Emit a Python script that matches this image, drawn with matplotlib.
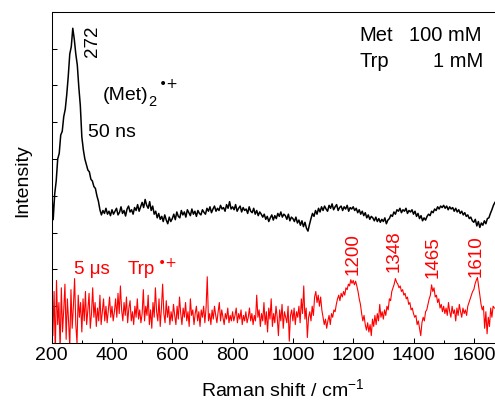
import numpy as np
import matplotlib
matplotlib.use("Agg")
import matplotlib.pyplot as plt
from matplotlib.ticker import MultipleLocator, NullFormatter

plt.rcParams["font.family"] = ["Liberation Sans", "DejaVu Sans"]
plt.rcParams["mathtext.fontset"] = "custom"
plt.rcParams["mathtext.rm"] = "Liberation Sans"
plt.rcParams["mathtext.it"] = "Liberation Sans:italic"

# ---------------------------------------------------------------------
# Spectra (offset intensity, arbitrary units)
# 50 ns spectrum, one value every 5 cm-1 starting at 200 cm-1
black_step = 5
black_y = [
    4.2, 3.35, 4.05, 4.4, 5.0, 5.15, 5.65, 5.75, 6.15, 6.35, 6.75, 7.25, 7.85, 8.05, 8.55, 8.25, 7.85, 7.55, 6.95, 6.45,
    5.6, 5.25, 5.0, 4.85, 4.7, 4.65, 4.45, 4.4, 4.25, 4.2, 4.0, 3.85, 3.62, 3.48, 3.6, 3.52, 3.66, 3.5, 3.58, 3.46,
    3.62, 3.5, 3.58, 3.66, 3.48, 3.55, 3.7, 3.52, 3.6, 3.45, 3.64, 3.72, 3.56, 3.62, 3.5, 3.68, 3.6, 3.76, 3.58, 3.7,
    3.82, 3.68, 3.9, 3.74, 3.66, 3.84, 3.6, 3.72, 3.5, 3.58, 3.4, 3.52, 3.36, 3.44, 3.3, 3.48, 3.34, 3.24, 3.42, 3.3,
    3.38, 3.5, 3.35, 3.56, 3.44, 3.4, 3.6, 3.48, 3.56, 3.42, 3.62, 3.54, 3.46, 3.64, 3.5, 3.58, 3.44, 3.6, 3.52, 3.48,
    3.62, 3.55, 3.5, 3.66, 3.58, 3.7, 3.54, 3.64, 3.72, 3.58, 3.66, 3.6, 3.74, 3.64, 3.68, 3.58, 3.76, 3.66, 3.84, 3.64,
    3.7, 3.62, 3.76, 3.58, 3.66, 3.72, 3.56, 3.68, 3.6, 3.64, 3.52, 3.7, 3.58, 3.54, 3.66, 3.5, 3.6, 3.46, 3.56, 3.5,
    3.42, 3.5, 3.36, 3.44, 3.3, 3.4, 3.48, 3.34, 3.46, 3.38, 3.52, 3.44, 3.56, 3.42, 3.5, 3.46, 3.36, 3.5, 3.32, 3.42,
    3.38, 3.3, 3.42, 3.26, 3.34, 3.2, 3.32, 3.16, 3.28, 3.12, 3.04, 3.22, 3.38, 3.52, 3.44, 3.6, 3.5, 3.66, 3.56, 3.7,
    3.6, 3.72, 3.64, 3.58, 3.74, 3.66, 3.78, 3.62, 3.7, 3.76, 3.6, 3.68, 3.72, 3.6, 3.7, 3.64, 3.74, 3.58, 3.68, 3.64,
    3.7, 3.6, 3.66, 3.54, 3.62, 3.5, 3.58, 3.46, 3.54, 3.4, 3.48, 3.36, 3.44, 3.4, 3.32, 3.42, 3.3, 3.38, 3.28, 3.36,
    3.3, 3.4, 3.24, 3.34, 3.38, 3.48, 3.44, 3.56, 3.5, 3.62, 3.58, 3.66, 3.54, 3.62, 3.58, 3.66, 3.52, 3.6, 3.56, 3.62,
    3.5, 3.58, 3.44, 3.52, 3.38, 3.46, 3.32, 3.4, 3.34, 3.44, 3.5, 3.46, 3.58, 3.54, 3.64, 3.6, 3.7, 3.64, 3.72, 3.68,
    3.74, 3.66, 3.72, 3.62, 3.7, 3.64, 3.68, 3.58, 3.66, 3.56, 3.62, 3.52, 3.58, 3.48, 3.54, 3.44, 3.48, 3.38, 3.42, 3.32,
    3.28, 3.36, 3.18, 3.3, 3.14, 3.26, 3.2, 3.32, 3.24, 3.38, 3.4, 3.52, 3.62, 3.74, 3.82,
]

# 5 us spectrum, one value every 4 cm-1 starting at 200 cm-1
red_step = 4
red_y = [
    2.45, 0.2, 1.4, -0.3, 1.7, 0.5, 1.1, -0.2, 1.5, 0.3, 0.9, 1.6, 0.1, 1.2, 0.6, -0.1, 1.45, 0.4, 1.0, 1.75, 0.5, 0.0, 1.3, 0.7, 1.1,
    0.3, 1.2, 0.6, 1.4, 0.5, 0.9, 1.35, 0.4, 0.8, 1.5, 0.7, 1.1, 0.45, 0.95, 0.6, 1.3, 0.5, 0.85, 1.2, 0.6, 1.0, 0.55, 0.9, 1.25, 0.7,
    1.0, 0.6, 0.85, 1.2, 0.7, 1.35, 0.8, 1.55, 0.9, 0.6, 1.1, 0.75, 1.25, 0.55, 0.95, 1.15, 0.6, 0.85, 0.5, 1.0, 0.7, 1.2, 0.65, 0.9, 0.55,
    0.8, 1.45, 0.6, 1.0, 0.75, 1.3, 0.5, 0.9, 0.4, 1.1, 0.7, 1.5, 0.85, 0.6, 1.2, 0.45, 0.95, 1.6, 0.8, 0.55, 1.15, 0.7, 1.0, 0.5, 0.85,
    0.6, 1.05, 0.75, 0.5, 1.0, 0.65, 1.25, 0.8, 0.5, 0.95, 0.7, 1.1, 0.6, 0.85, 0.45, 1.2, 0.75, 0.9, 0.5, 0.8, 1.0, 0.6, 0.85, 0.45, 0.9,
    0.7, 1.0, 0.55, 0.95, 1.8, 0.6, 0.8, 0.5, 0.9, 0.65, 1.0, 0.75, 0.55, 0.85, 1.1, 0.6, 0.9, 0.7, 0.5, 0.8, 0.65, 0.95, 0.55, 0.75, 0.6,
    0.85, 0.6, 0.75, 0.95, 0.55, 0.8, 0.65, 0.9, 0.5, 0.75, 0.6, 0.85, 0.55, 0.7, 0.95, 0.6, 0.8, 0.5, 0.75, 0.6, 1.3, 0.7, 0.9, 0.45, 0.8,
    0.6, 1.1, 0.5, 0.85, 0.3, 0.95, 0.65, 1.2, 0.45, 0.8, 0.55, 1.0, 0.7, 0.2, 0.9, 0.6, 1.05, 0.4, 0.85, 0.7, 0.55, 1.0, 0.05, 0.75, 0.9,
    0.6, 0.95, 0.5, 0.85, 0.7, 1.0, 0.55, 1.2, 0.8, 1.55, 0.65, 0.95, 0.15, 0.7, 0.85, 0.6, 1.0, 0.75, 1.25, 1.4, 1.1, 1.3, 1.0, 1.25, 0.9,
    0.7, 0.5, 0.65, 0.4, 0.6, 0.75, 0.5, 0.8, 0.7, 0.9, 0.85, 1.05, 1.2, 1.3, 1.15, 1.35, 1.25, 1.4, 1.3, 1.5, 1.45, 1.6, 1.55, 1.72, 1.62,
    1.7, 1.58, 1.68, 1.55, 1.4, 1.2, 1.05, 0.8, 0.6, 0.75, 0.5, 0.35, 0.55, 0.3, 0.5, 0.2, 0.65, 0.45, 0.75, 0.5, 0.8, 0.6, 1.05, 0.7, 0.85,
    0.65, 0.9, 0.75, 1.0, 0.9, 1.2, 1.15, 1.4, 1.5, 1.6, 1.75, 1.65, 1.6, 1.5, 1.55, 1.4, 1.45, 1.3, 1.35, 1.2, 1.25, 1.05, 1.1, 0.9, 0.95,
    0.8, 0.7, 0.75, 0.5, 0.6, 0.4, 0.2, 0.55, 0.7, 0.6, 0.85, 0.9, 1.05, 1.2, 1.3, 1.58, 1.4, 1.5, 1.25, 1.3, 1.1, 1.2, 0.95, 1.05, 0.85,
    1.0, 0.8, 0.95, 0.75, 1.1, 0.85, 0.7, 1.0, 0.8, 0.9, 0.6, 0.95, 0.75, 1.05, 0.85, 0.7, 0.95, 0.8, 0.9, 0.75, 1.0, 1.1, 1.2, 1.3, 1.4,
    1.45, 1.6, 1.7, 1.78, 1.55, 1.3, 1.05, 0.9, 1.0, 0.4, 0.85, 0.25, 0.7, 0.45, 0.95, 0.7, 1.0, 0.95,
]

black_x = 200 + black_step * np.arange(len(black_y))
red_x = 200 + red_step * np.arange(len(red_y))

# peak annotations
red_peaks = [1200, 1348, 1465, 1610]
red_peak_text_x = [1200, 1335, 1465, 1607]
red_peak_text_y = [1.85, 1.93, 1.77, 1.79]

# ---------------------------------------------------------------------
fig = plt.figure(figsize=(4.95, 4.01), dpi=100)
ax = fig.add_axes([0.1044, 0.1446, 0.9137, 0.8262])

ax.plot(black_x, black_y, color="black", lw=1.1)
ax.plot(red_x, red_y, color="red", lw=0.8)

ax.set_xlim(200, 1700)
ax.set_ylim(0, 9)

ax.xaxis.set_major_locator(MultipleLocator(200))
ax.xaxis.set_minor_locator(MultipleLocator(100))
ax.yaxis.set_major_locator(MultipleLocator(1))
ax.yaxis.set_major_formatter(NullFormatter())
ax.tick_params(axis="both", which="major", direction="in", length=3.6, width=0.75,
               labelsize=14, pad=3)
ax.tick_params(axis="x", which="minor", direction="in", length=2, width=0.75)
ax.tick_params(axis="y", which="both", right=False)
ax.tick_params(axis="x", which="both", top=False)
for s in ax.spines.values():
    s.set_linewidth(0.75)
ax.spines["right"].set_visible(False)

ax.set_ylabel("Intensity", fontsize=14)
ax.yaxis.set_label_coords(-0.046, 0.49)
ax.set_xlabel("Raman shift / cm$^{-1}$", fontsize=14)
ax.xaxis.set_label_coords(0.511, -0.106)

# --- black annotations
ax.text(334, 7.77, "272", rotation=90, ha="center", va="bottom", fontsize=13.5)
ax.text(370, 6.6, "(Met)", ha="left", va="baseline", fontsize=14)
ax.text(521, 6.45, "2", ha="left", va="baseline", fontsize=10.5)
ax.text(554, 6.93, "•+", ha="left", va="baseline", fontsize=10, family="DejaVu Sans")
ax.text(321, 5.6, "50 ns", ha="left", va="baseline", fontsize=14)

ax.text(1222, 8.21, "Met", ha="left", va="baseline", fontsize=14.5)
ax.text(1627, 8.21, "100 mM", ha="right", va="baseline", fontsize=14.5)
ax.text(1222, 7.51, "Trp", ha="left", va="baseline", fontsize=14.5)
ax.text(1632, 7.51, "1 mM", ha="right", va="baseline", fontsize=14.5)

# --- red annotations
ax.text(274, 1.875, "5 μs", ha="left", va="baseline", fontsize=13.5, color="red")
ax.text(453, 1.875, "Trp", ha="left", va="baseline", fontsize=13.5, color="red")
ax.text(551, 2.07, "•+", ha="left", va="baseline", fontsize=10, color="red",
        family="DejaVu Sans")

for lab, px, py in zip(red_peaks, red_peak_text_x, red_peak_text_y):
    ax.text(px, py, str(lab), rotation=90, ha="center", va="bottom", fontsize=13.5, color="red")

fig.savefig("out.png", dpi=100)
